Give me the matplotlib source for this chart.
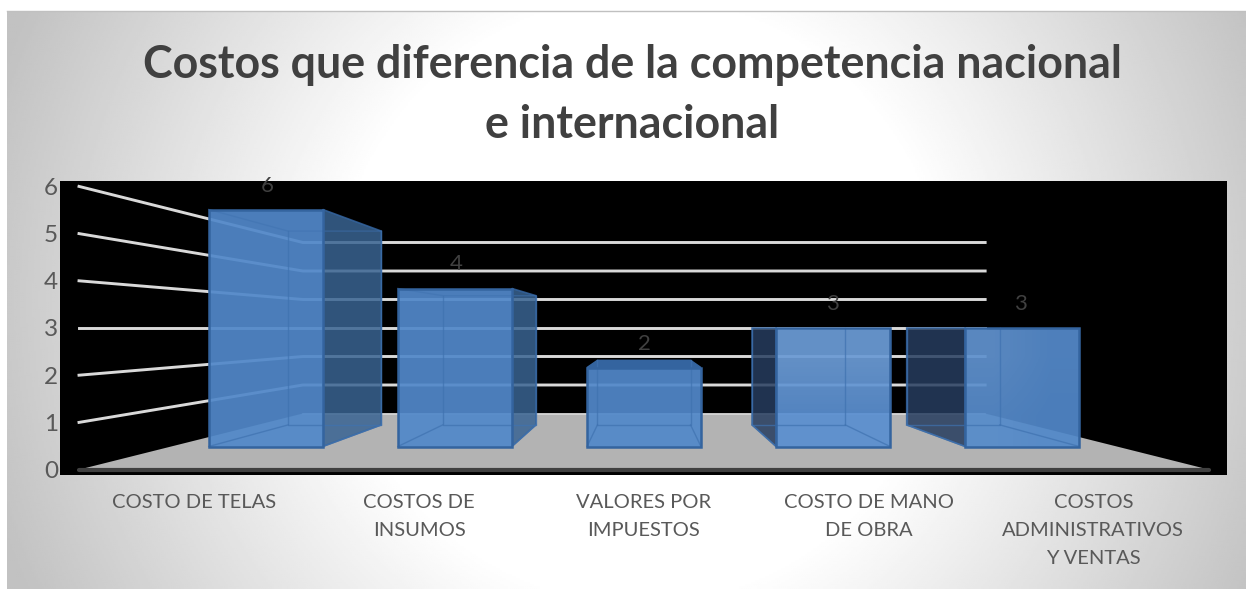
import numpy as np
import matplotlib
matplotlib.use("Agg")
import matplotlib.pyplot as plt
from matplotlib.patches import Polygon, Rectangle

title = "Costos que diferencia de la competencia nacional\ne internacional"
categories = ["COSTO DE TELAS", "COSTOS DE\nINSUMOS", "VALORES POR\nIMPUESTOS",
              "COSTO DE MANO\nDE OBRA", "COSTOS\nADMINISTRATIVOS\nY VENTAS"]
values = [6, 4, 2, 3, 3]
yticks = [0, 1, 2, 3, 4, 5, 6]

W, H = 1246, 589
plt.rcParams['font.family'] = ['Lato', 'DejaVu Sans']
fig = plt.figure(figsize=(W / 100, H / 100), dpi=100, facecolor='white')
ax = fig.add_axes([0, 0, 1, 1])
ax.set_xlim(0, W)
ax.set_ylim(H, 0)
ax.axis('off')

# background: circular grey-to-white gradient
L, R, T, B = 7, 1246, 11, 589
xx, yy = np.meshgrid(np.linspace(L, R, 620), np.linspace(T, B, 290))
r = np.hypot(xx - 640, yy - 300)
g = 1 - np.clip((r - 300) / 380, 0, 1) * (1 - 0.76)
ax.imshow(g, extent=(L, R, B, T), cmap='gray', vmin=0, vmax=1, aspect='auto', zorder=0)
ax.plot([L, R], [T, T], color='#c0c0c0', lw=1, zorder=1)

# plot area
ax.add_patch(Rectangle((60, 181), 1167, 294, fc='black', ec='none', zorder=1))

# perspective: depth planes given by pixels per value unit
S_NEAR, S_BACK, S_BF, S_BB = 47.2, 28.5, 39.5, 32.3
XC, YC, KX = 644, 328, 11.97
VMID = 3.0


def P(u, v, s):
    return (XC + s * KX * u, YC + (VMID - v) * s)


Z = 2
# back wall gridlines and left wall gridlines
for v in yticks[1:]:
    ax.plot(*zip(P(-1, v, S_NEAR), P(-1, v, S_BACK), P(1, v, S_BACK)),
            color='#d9d9d9', lw=2.1, solid_joinstyle='miter', zorder=Z)
# floor
ax.add_patch(Polygon([P(-1, 0, S_NEAR), P(-1, 0, S_BACK), P(1, 0, S_BACK), P(1, 0, S_NEAR)],
                     fc='#b3b3b3', ec='none', zorder=Z))
ax.plot(*zip(P(-1, 0, S_BACK), P(1, 0, S_BACK)), color='#d9d9d9', lw=1.2, zorder=Z)
ax.plot(*zip(P(-1, 0, S_NEAR), P(1, 0, S_NEAR)), color='#404040', lw=3.0,
        solid_capstyle='round', zorder=Z)

EDGE = '#34649f'
INNER = '#3f72b0'
front_cols = ['#5188c9', '#5188c9', '#5188c9', '#5a8fd0', '#5188c9']
# soft white sheen on the front faces, corners TL TR / BL BR
sheen = [None, None, None, [[.10, .10], [0, 0]], [[.08, .02], [.03, 0]]]
for i, v in enumerate(values):
    c = -0.8 + 0.4 * i
    a, b = c - 0.1205, c + 0.1205
    z = Z + 1
    fb = [P(a, 0, S_BF), P(b, 0, S_BF), P(b, v, S_BF), P(a, v, S_BF)]
    bb = [P(a, 0, S_BB), P(b, 0, S_BB), P(b, v, S_BB), P(a, v, S_BB)]
    # side face visible toward the centre
    if c < 0:
        side = [fb[1], bb[1], bb[2], fb[2]]
        col = '#396492'
    elif c > 0:
        side = [fb[0], bb[0], bb[3], fb[3]]
        col = '#263d5f'
    else:
        side = None
    if side:
        ax.add_patch(Polygon(side, fc=col, ec=EDGE, lw=1.2, alpha=.85, zorder=z))
    # top face, only seen from above when the bar stays below eye level
    if v < VMID:
        ax.add_patch(Polygon([fb[3], fb[2], bb[2], bb[3]], fc='#34649f', ec=EDGE, lw=1, zorder=z))
    # front face
    ax.add_patch(Polygon(fb, fc=front_cols[i], ec='none', alpha=.93, zorder=z + 1))
    if sheen[i] is not None:
        rgba = np.ones((2, 2, 4))
        rgba[..., 3] = np.array(sheen[i])
        im = ax.imshow(rgba, extent=(fb[0][0], fb[1][0], fb[0][1], fb[3][1]), aspect='auto',
                       interpolation='bilinear', zorder=z + 1.5)
        im.set_clip_path(Polygon(fb, transform=ax.transData))
    # inner edges seen through the front face
    ax.plot(*zip(bb[3], bb[0], bb[1], bb[2]), color=INNER, lw=1, alpha=.7, zorder=z + 2)
    ax.plot(*zip(fb[0], bb[0]), color=INNER, lw=1, alpha=.7, zorder=z + 2)
    ax.plot(*zip(fb[1], bb[1]), color=INNER, lw=1, alpha=.7, zorder=z + 2)
    if v > VMID:
        ax.plot(*zip(fb[3], bb[3], bb[2]), color=INNER, lw=1, alpha=.5, zorder=z + 2)
    ax.add_patch(Polygon(fb, fc='none', ec=EDGE, lw=1.8, zorder=z + 3))
    # data label
    xm = P(c * 0.995, v, S_BF)
    ax.text(xm[0], xm[1] - 24, str(v), ha='center', va='center', fontsize=16,
            color='#404040', zorder=10)

ax.set_xlim(0, W)
ax.set_ylim(H, 0)

# value axis labels
for v in yticks:
    ax.text(58, P(-1, v, S_NEAR)[1] + 2, str(v), ha='right', va='center', fontsize=17.5,
            color='#595959', zorder=10)

# category labels
for i, lab in enumerate(categories):
    ax.text(194.5 + i * 224.7, 494, lab, ha='center', va='top', fontsize=14.5,
            color='#595959', linespacing=1.79, zorder=10)

ax.text(632, 95, title, ha='center', va='center', fontsize=32.2, fontweight='bold',
        color='#404040', linespacing=1.55, zorder=10)

fig.savefig('out.png', dpi=100)
